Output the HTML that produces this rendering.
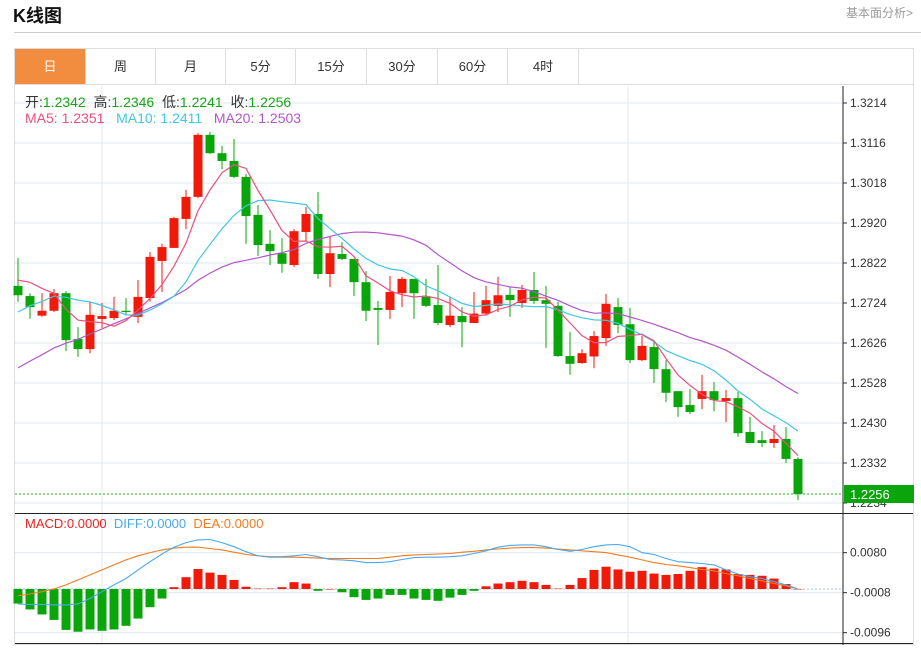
<!DOCTYPE html>
<html><head><meta charset="utf-8"><style>
body{margin:0;width:921px;height:648px;background:#fff;font-family:"Liberation Sans","Noto Sans CJK SC",sans-serif;overflow:hidden;position:relative}
.t{position:absolute}
.tab{position:absolute;top:49px;height:35px;line-height:35px;text-align:center;font-size:13px;color:#333;border-right:1px solid #ddd;box-sizing:border-box}
</style></head><body>
<div class="t" style="left:13px;top:2px;font-size:18px;font-weight:bold;color:#111;font-family:'Liberation Sans','Noto Sans CJK SC',sans-serif">K线图</div>
<div class="t" style="left:846px;top:4px;font-size:12px;color:#999">基本面分析&gt;</div>
<div class="t" style="left:14px;top:32px;width:907px;height:1px;background:#ccc"></div>
<div class="t" style="left:14px;top:48px;width:900px;height:597px;border:1px solid #ddd;box-sizing:border-box"></div>
<div class="tab" style="left:15px;width:71px;background:#f28c3f;color:#fff">日</div>
<div class="tab" style="left:86px;width:70px">周</div>
<div class="tab" style="left:156px;width:70px">月</div>
<div class="tab" style="left:226px;width:70px">5分</div>
<div class="tab" style="left:296px;width:71px">15分</div>
<div class="tab" style="left:367px;width:71px">30分</div>
<div class="tab" style="left:438px;width:70px">60分</div>
<div class="tab" style="left:508px;width:71px">4时</div>
<div class="t" style="left:15px;top:84px;width:898px;height:1px;background:#ddd"></div>
<svg id="c" class="t" style="left:0;top:0" width="921" height="648"></svg>
<script>
const opens=[1.2766,1.2741,1.2693,1.2705,1.2748,1.2636,1.2611,1.2685,1.2687,1.2705,1.2690,1.2736,1.2827,1.2859,1.2930,1.2984,1.3136,1.3091,1.3072,1.3033,1.2940,1.2869,1.2846,1.2817,1.2898,1.2942,1.2795,1.2844,1.2832,1.2775,1.2712,1.2707,1.2748,1.2783,1.2739,1.2719,1.2670,1.2692,1.2675,1.2698,1.2717,1.2744,1.2724,1.2756,1.2731,1.2717,1.2594,1.2577,1.2593,1.2638,1.2714,1.2672,1.2584,1.2616,1.2562,1.2508,1.2474,1.2489,1.2508,1.2484,1.2491,1.2408,1.2388,1.2381,1.2391,1.2342];
const highs=[1.2834,1.2748,1.2748,1.2758,1.2753,1.2665,1.2727,1.2724,1.2739,1.2736,1.2780,1.2849,1.2869,1.2935,1.3001,1.3140,1.3143,1.3109,1.3126,1.3040,1.2964,1.2903,1.2883,1.2905,1.2959,1.2996,1.2886,1.2873,1.2832,1.2802,1.2729,1.2790,1.2788,1.2783,1.2783,1.2817,1.2739,1.2714,1.2751,1.2766,1.2788,1.2763,1.2768,1.2800,1.2766,1.2727,1.2653,1.2611,1.2655,1.2746,1.2736,1.2712,1.2643,1.2628,1.2584,1.2508,1.2513,1.2548,1.2530,1.2511,1.2506,1.2445,1.2410,1.2425,1.2420,1.2346];
const lows=[1.2727,1.2685,1.2690,1.2702,1.2606,1.2592,1.2601,1.2663,1.2682,1.2695,1.2675,1.2727,1.2751,1.2859,1.2905,1.2981,1.3089,1.3052,1.3030,1.2869,1.2839,1.2817,1.2798,1.2812,1.2876,1.2783,1.2763,1.2829,1.2741,1.2680,1.2621,1.2685,1.2714,1.2685,1.2714,1.2670,1.2665,1.2616,1.2675,1.2693,1.2702,1.2690,1.2712,1.2722,1.2614,1.2592,1.2548,1.2575,1.2564,1.2619,1.2650,1.2577,1.2582,1.2528,1.2481,1.2445,1.2452,1.2464,1.2459,1.2432,1.2396,1.2381,1.2371,1.2369,1.2332,1.2241];
const closes=[1.2743,1.2714,1.2705,1.2748,1.2633,1.2611,1.2695,1.2692,1.2705,1.2702,1.2739,1.2837,1.2861,1.2932,1.2984,1.3136,1.3091,1.3072,1.3033,1.2937,1.2866,1.2851,1.2820,1.2900,1.2942,1.2795,1.2846,1.2832,1.2775,1.2705,1.2707,1.2751,1.2783,1.2748,1.2717,1.2675,1.2693,1.2677,1.2698,1.2731,1.2743,1.2731,1.2756,1.2729,1.2722,1.2594,1.2575,1.2601,1.2643,1.2722,1.2670,1.2584,1.2619,1.2562,1.2504,1.2469,1.2457,1.2508,1.2486,1.2491,1.2405,1.2381,1.2381,1.2391,1.2342,1.2256];
const priorCloses=[1.2380,1.2395,1.2410,1.2405,1.2420,1.2435,1.2440,1.2450,1.2465,1.2480,1.2560,1.2600,1.2620,1.2660,1.2680,1.2740,1.2780,1.2810,1.2827];
const priceTicks=["1.3214","1.3116","1.3018","1.2920","1.2822","1.2724","1.2626","1.2528","1.2430","1.2332","1.2234"];
// MACD values in units of 0.0001
const diffVals=[-33,-34,-34,-35,-35,-33,-21,-6,9,23,42,60,77,92,102,108,109,102,93,82,73,71,71,73,76,71,65,64,62,58,58,60,65,69,70,70,71,73,78,84,92,96,97,97,93,87,83,87,93,97,98,93,80,76,67,60,58,56,53,42,33,27,23,16,9,0];
const deaVals=[-15,-11,-6,0,9,20,31,42,53,64,73,80,86,90,92,92,89,86,81,76,73,70,70,70,69,68,67,67,67,67,67,70,73,75,76,77,78,81,83,86,88,90,91,91,90,88,86,84,82,80,75,70,64,58,54,51,47,43,40,34,29,23,18,12,7,0];
const histVals=[-32,-45,-56,-68,-90,-94,-89,-92,-89,-81,-65,-40,-21,4,26,44,36,31,20,5,1,1,4,15,12,-4,0,-7,-18,-24,-21,-13,-13,-21,-24,-26,-19,-13,-4,6,12,15,18,15,9,1,9,24,42,49,43,38,40,34,31,33,40,48,45,43,33,31,29,23,11,0];
const macdTicks=["0.0080","-0.0008","-0.0096"];

const NS="http://www.w3.org/2000/svg",svg=document.getElementById('c');
function el(tag,attrs,parent){const e=document.createElementNS(NS,tag);for(const k in attrs)e.setAttribute(k,attrs[k]);(parent||svg).appendChild(e);return e;}
const X0=18,DX=12,AX=843;
const xOf=i=>X0+DX*i;
const yP=v=>103+(1.3214-v)/0.0098*40;
const yM=v=>589-(v*0.0001)/0.0088*40;
const RED="#f01a0a",GRN="#0aa50a";
[102,628].forEach(x=>{const l=el('line',{x1:x,x2:x,y1:86,y2:644,stroke:'#e3e8ee'});});
priceTicks.forEach(t=>{const y=yP(+t);
 const g=el('line',{x1:15,x2:AX,y1:y,y2:y,stroke:'#e3e8ee'});
 el('line',{x1:AX,x2:AX+4,y1:y,y2:y,stroke:'#333'});
 const tx=el('text',{x:850,y:y+4,'font-size':12,fill:'#333'});tx.textContent=t;});
macdTicks.forEach(t=>{const y=yM(+t*10000);
 const g=el('line',{x1:15,x2:AX,y1:y,y2:y,stroke:'#e3e8ee'});
 el('line',{x1:AX,x2:AX+4,y1:y,y2:y,stroke:'#333'});
 const tx=el('text',{x:850,y:y+4,'font-size':12,fill:'#333'});tx.textContent=t;});
el('line',{x1:AX,x2:AX,y1:86,y2:645,stroke:'#222'});
el('line',{x1:15,x2:913,y1:513.5,y2:513.5,stroke:'#222'});
el('line',{x1:15,x2:913,y1:643.5,y2:643.5,stroke:'#222'});
closes.forEach((c,i)=>{const o=opens[i],up=c>=o,col=up?RED:GRN,x=xOf(i);
 const w=el('line',{x1:x,x2:x,y1:yP(highs[i]),y2:yP(lows[i]),stroke:col,'stroke-width':1});
 const t=yP(Math.max(o,c)),b=yP(Math.min(o,c));
 const r=el('rect',{x:x-4.5,y:t,width:9,height:Math.max(1,b-t),fill:col});});
const all=priorCloses.concat(closes),P=priorCloses.length;
function ma(n,col,name){let pts=closes.map((_,i)=>{let s=0;for(let k=0;k<n;k++)s+=all[P+i-k];return xOf(i)+','+yP(s/n).toFixed(1);});
 const p=el('polyline',{points:pts.join(' '),fill:'none',stroke:col,'stroke-width':1.2});}
ma(20,'#b157c8','ma20-line');ma(10,'#3fc8e0','ma10-line');ma(5,'#ef4f7e','ma5-line');
const lp=closes[closes.length-1],ly=yP(lp);
const dl=el('line',{x1:15,x2:AX,y1:ly,y2:ly,stroke:'#1fb81f','stroke-dasharray':'2,2'});
const bx=el('rect',{x:844,y:ly-9,width:70,height:18,fill:'#0aa50a'});
const bt=el('text',{x:850,y:ly+5,'font-size':13,fill:'#fff'});bt.textContent=lp.toFixed(4);
const zl=el('line',{x1:15,x2:AX,y1:yM(0),y2:yM(0),stroke:'#9cc8ec','stroke-dasharray':'2,2'});
histVals.forEach((v,i)=>{const y0=yM(0),y1=yM(v);
 const r=el('rect',{x:xOf(i)-4.5,y:Math.min(y0,y1),width:9,height:Math.max(0.5,Math.abs(y1-y0)),fill:v>=0?RED:GRN});});
function line(arr,col,name){const p=el('polyline',{points:arr.map((v,i)=>xOf(i)+','+yM(v).toFixed(1)).join(' '),fill:'none',stroke:col,'stroke-width':1.1});}
line(deaVals,'#f57a1f','dea-line');line(diffVals,'#4aa8f0','diff-line');
</script>
<div class="t" style="left:25px;top:92px;font-size:14px;color:#333;white-space:nowrap">开:<span style="color:#12a812">1.2342</span>&nbsp;&nbsp;高:<span style="color:#12a812">1.2346</span>&nbsp;&nbsp;低:<span style="color:#12a812">1.2241</span>&nbsp;&nbsp;收:<span style="color:#12a812">1.2256</span></div>
<div class="t" style="left:25px;top:110px;font-size:14px;white-space:nowrap"><span style="color:#ef4f7e">MA5: 1.2351</span>&nbsp;&nbsp;&nbsp;<span style="color:#3fc8e0">MA10: 1.2411</span>&nbsp;&nbsp;&nbsp;<span style="color:#b157c8">MA20: 1.2503</span></div>
<div class="t" style="left:25px;top:516px;font-size:13px;white-space:nowrap"><span style="color:#f02020">MACD:0.0000</span>&nbsp;&nbsp;<span style="color:#4aa8f0">DIFF:0.0000</span>&nbsp;&nbsp;<span style="color:#f57a1f">DEA:0.0000</span></div>
</body></html>
